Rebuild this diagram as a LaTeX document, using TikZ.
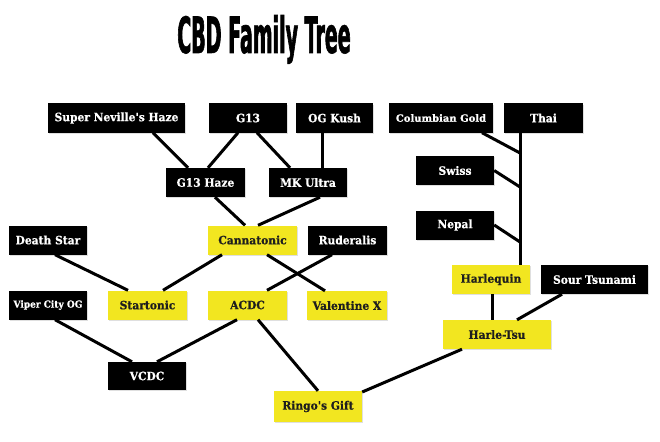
\documentclass[tikz,border=0pt]{standalone}
\usepackage{fontspec}
\usepackage{xcolor}
\usepackage{tikz}
\usetikzlibrary{
  arrows.meta,          % arrow tips
  positioning,          % relative node placement
  calc,                 % coordinate math
  shadows,              % soft box shadows
}
\newfontfamily\titlefont[FakeStretch=0.38,FakeBold=1.2]{DejaVu Sans}
\newfontfamily\boxfont[FakeStretch=0.93,FakeBold=0.6]{DejaVu Serif}
\newfontfamily\boxfontwide[FakeStretch=1.0,FakeBold=0.6]{DejaVu Serif}
\definecolor{cbdyellow}{RGB}{242,230,32}
\definecolor{cbdink}{RGB}{30,30,30}

\begin{document}
\begin{tikzpicture}[
  x=1pt, y=-1pt,
  strain/.style={minimum width=78pt, minimum height=29pt, inner sep=0pt,
    fill=black, text=white, font=\boxfont\bfseries\fontsize{11.5}{13}\selectfont,
    drop shadow={opacity=0.25, shadow xshift=1pt, shadow yshift=-1pt}},
  small/.style={font=\boxfont\bfseries\fontsize{9.7}{11}\selectfont},
  cbd/.style={strain, fill=cbdyellow, text=cbdink},
  link/.style={line width=3pt, black},
]
  \useasboundingbox (0,0) rectangle (660,441);
  % Title
  \node[anchor=base, font=\titlefont\bfseries\fontsize{50}{50}\selectfont] (title) at (264,53) {CBD Family Tree};
  % Top row
  \node[strain, minimum width=137pt] (snh)   at (116.5,118) {Super Neville's Haze};
  \node[strain]                      (g13)   at (248,118)   {G13};
  \node[strain, minimum width=77pt]  (ogk)   at (334.5,118) {OG Kush};
  \node[strain, minimum width=104pt, font=\boxfontwide\bfseries\fontsize{10}{11}\selectfont] (colg) at (441,118) {Columbian Gold};
  \node[strain, minimum width=79pt]  (thai)  at (543.5,118) {Thai};
  % Second row
  \node[strain, minimum width=79pt]  (g13h)  at (205.5,182.5) {G13 Haze};
  \node[strain]                      (mku)   at (308,182.5)   {MK Ultra};
  \node[strain]                      (swiss) at (455,170.5)   {Swiss};
  \node[strain]                      (nepal) at (455,225)     {Nepal};
  % Third row
  \node[strain]                      (death) at (48,240)      {Death Star};
  \node[cbd, minimum width=89pt]     (canna) at (252.5,240)   {Cannatonic};
  \node[strain, minimum width=79pt]  (rud)   at (347.5,240)   {Ruderalis};
  \node[cbd]                         (harq)  at (491,279.5)   {Harlequin};
  \node[strain, minimum width=107pt] (sour)  at (594.5,279.5) {Sour Tsunami};
  % Fourth row
  \node[strain, small]               (viper) at (48,305)      {Viper City OG};
  \node[cbd, minimum width=79pt]     (start) at (147.5,305)   {Startonic};
  \node[cbd, minimum width=79pt]     (acdc)  at (247.5,305)   {ACDC};
  \node[cbd, minimum width=80pt]     (valx)  at (347,305.5)   {Valentine X};
  \node[cbd, minimum width=108pt]    (hts)   at (497,334.5)   {Harle-Tsu};
  % Bottom row
  \node[strain, minimum height=28pt] (vcdc)  at (147,376)     {VCDC};
  \node[cbd, minimum width=88pt, minimum height=31pt] (ringo) at (318,406.5) {Ringo's Gift};
  % Joints on the Thai line
  \coordinate (jcol)   at (520,153);
  \coordinate (jswiss) at (520,187);
  \coordinate (jnepal) at (520,242);
  % Links
  \draw[link] ([xshift=36.5pt]snh.south) -- ([xshift=-17.5pt]g13h.north);
  \draw[link] ([xshift=-10pt]g13.south) -- ([xshift=2.5pt]g13h.north);
  \draw[link] ([xshift=9pt]g13.south) -- ([xshift=-18pt]mku.north);
  \draw[link] ([xshift=-12.5pt]ogk.south) -- ([xshift=14pt]mku.north);
  \draw[link] ([xshift=9.5pt]g13h.south) -- ([xshift=-7.5pt]canna.north);
  \draw[link] ([xshift=12pt]mku.south) -- ([xshift=5.5pt]canna.north);
  \draw[link] ([xshift=-30.5pt]canna.south) -- ([xshift=15.5pt]start.north);
  \draw[link] ([xshift=7pt]death.south) -- ([xshift=-19.5pt]start.north);
  \draw[link] ([xshift=14.5pt]canna.south) -- ([xshift=-22pt]valx.north);
  \draw[link] ([xshift=-15.5pt]rud.south) -- ([xshift=19.5pt]acdc.north);
  \draw[link] ([xshift=7pt]viper.south) -- ([xshift=-15pt]vcdc.north);
  \draw[link] ([xshift=-10.5pt]acdc.south) -- ([xshift=10pt]vcdc.north);
  \draw[link] ([xshift=10.5pt]acdc.south) -- (ringo.north);
  \draw[link] ([yshift=14.5pt]ringo.east) -- ([xshift=-35pt]hts.south);
  \draw[link] ([xshift=1pt]harq.south) -- ([xshift=-5pt]hts.north);
  \draw[link] ([xshift=-32.5pt]sour.south) -- ([xshift=20pt]hts.north);
  \draw[link] ([xshift=-23.5pt]thai.south) -- ([xshift=29pt]harq.north);
  \draw[link] ([xshift=41pt]colg.south) -- (jcol);
  \draw[link] (swiss.east) -- (jswiss);
  \draw[link] (nepal.east) -- (jnepal);
\end{tikzpicture}
\end{document}
